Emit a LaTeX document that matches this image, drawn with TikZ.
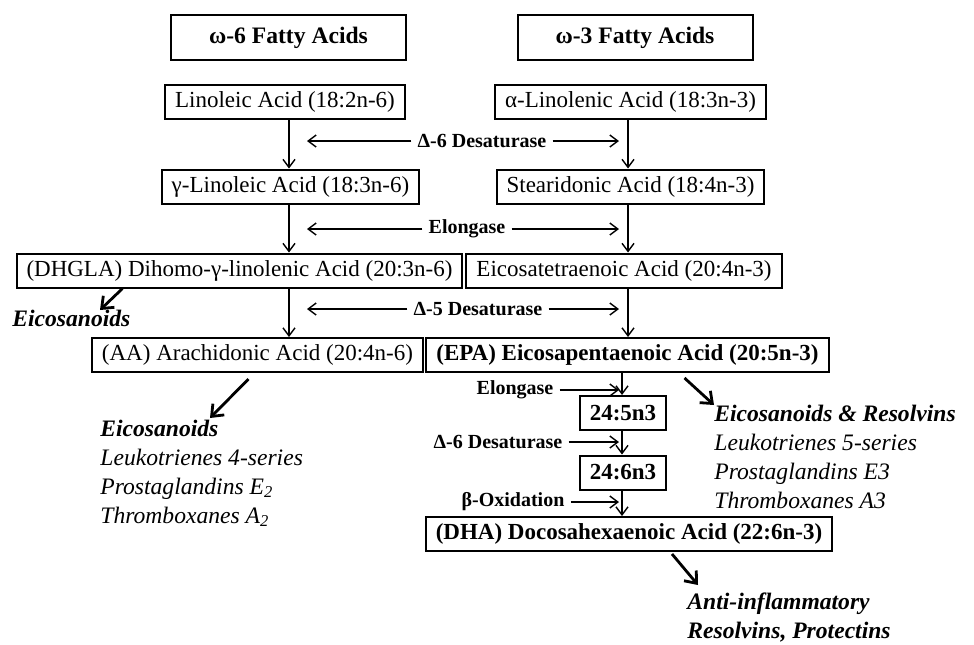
\documentclass[tikz,border=0pt]{standalone}
\usepackage{fontspec}
\setmainfont{Liberation Serif}
\usetikzlibrary{arrows.meta,calc,positioning}

\tikzset{
  acidbox/.style={draw,line width=1pt,inner xsep=5pt,inner ysep=0pt,minimum height=17pt,font=\fontsize{11.5}{13}\selectfont},
  keybox/.style={acidbox,font=\fontsize{11.5}{13}\selectfont\bfseries},
  headbox/.style={acidbox,minimum width=117.5pt,minimum height=22.5pt,font=\fontsize{11.8}{13}\selectfont\bfseries},
  enzyme/.style={font=\fontsize{10}{12}\selectfont\bfseries,inner sep=3pt},
  flow/.style={line width=0.7pt,-{Straight Barb[length=4pt,width=6pt]}},
  outflow/.style={line width=1.4pt,-{Straight Barb[length=5pt,width=8pt]}},
  product/.style={align=left,inner sep=0pt,anchor=north west,font=\fontsize{11.8}{14.4}\selectfont\itshape},
}

\begin{document}
\begin{tikzpicture}[x=0.5pt,y=-0.5pt]
\useasboundingbox (0,0) rectangle (974,644);
\coordinate (colL) at (289,0);
\coordinate (colR) at (628,0);
\coordinate (colE) at (622,0);

% column heads
\node[headbox] (omega6) at (288.5,37.5) {ω-6 Fatty Acids};
\node[headbox] (omega3) at (635,37.5) {ω-3 Fatty Acids};

% omega-6 chain
\node[acidbox] (la) at (285,102) {Linoleic Acid (18:2n-6)};
\node[acidbox] (gla) at (290.5,186.5) {γ-Linoleic Acid (18:3n-6)};
\node[acidbox] (dgla) at (239.5,270.5) {(DHGLA) Dihomo-γ-linolenic Acid (20:3n-6)};
\node[acidbox] (aa) at (257.5,355) {(AA) Arachidonic Acid (20:4n-6)};

% omega-3 chain
\node[acidbox] (ala) at (630.5,102) {α-Linolenic Acid (18:3n-3)};
\node[acidbox] (sda) at (630.5,186.5) {Stearidonic Acid (18:4n-3)};
\node[acidbox] (eta) at (624,270.5) {Eicosatetraenoic Acid (20:4n-3)};
\node[keybox] (epa) at (627.5,355) {(EPA) Eicosapentaenoic Acid (20:5n-3)};
\node[keybox] (c245) at (623,413) {24:5n3};
\node[keybox] (c246) at (623,472.5) {24:6n3};
\node[keybox] (dha) at (629,534) {(DHA) Docosahexaenoic Acid (22:6n-3)};

\foreach \a/\b in {la/gla,gla/dgla,dgla/aa}
  \draw[flow] (\a.south -| colL) -- (\b.north -| colL);
\foreach \a/\b in {ala/sda,sda/eta,eta/epa}
  \draw[flow] (\a.south -| colR) -- (\b.north -| colR);
\foreach \a/\b in {epa/c245,c245/c246,c246/dha}
  \draw[flow] (\a.south -| colE) -- (\b.north -| colE);

% enzymes
\node[enzyme] (des6) at (482,141) {Δ-6 Desaturase};
\node[enzyme] (elo) at (467,229) {Elongase};
\node[enzyme] (des5) at (478,309) {Δ-5 Desaturase};
\foreach \e in {des6,elo,des5}{
  \draw[flow] (\e.west) -- ($(\e.west -| colL)+(18,0)$);
  \draw[flow] (\e.east) -- ($(\e.east -| colR)+(-9,0)$);
}
\node[enzyme] (elo2) at (515,390) {Elongase};
\node[enzyme] (des6b) at (498,442) {Δ-6 Desaturase};
\node[enzyme] (boxi) at (513,502) {β-Oxidation};
\foreach \e in {elo2,des6b,boxi}
  \draw[flow] (\e.east) -- ($(\e.east -| colE)+(-3,0)$);

% products
\node[product] (eico6) at (12,310) {\textbf{Eicosanoids}};
\draw[outflow] ($(dgla.south west)+(107,0)$) -- ($(eico6.north west)+(88,0)$);
\node[product] (aaout) at (100,420) {\textbf{Eicosanoids}\\Leukotrienes 4-series\\Prostaglandins E\textsubscript{2}\\Thromboxanes A\textsubscript{2}};
\draw[outflow] ($(aa.south)+(-9,6)$) -- ($(aaout.north west)+(110,-2)$);
\node[product] (epaout) at (714,405) {\textbf{Eicosanoids \& Resolvins}\\Leukotrienes 5-series\\Prostaglandins E3\\Thromboxanes A3};
\draw[outflow] ($(epa.south)+(57,5)$) -- (epaout.north west);
\node[product,font=\fontsize{11.8}{14.5}\selectfont\bfseries\itshape] (dhaout) at (687,592) {Anti-inflammatory\\Resolvins, Protectins};
\draw[outflow] ($(dha.south)+(43,2)$) -- ($(dhaout.north west)+(11,-7)$);
\end{tikzpicture}
\end{document}
